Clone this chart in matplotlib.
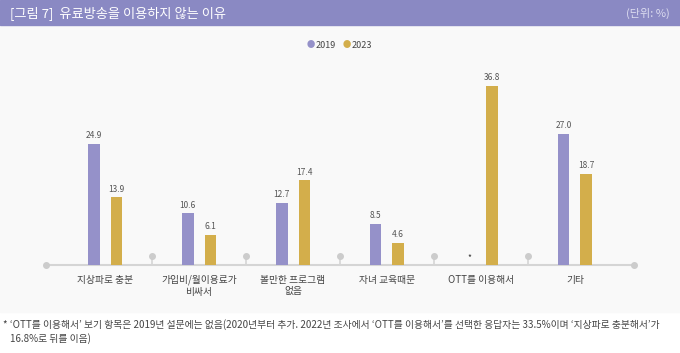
import matplotlib.pyplot as plt
import matplotlib.patches as mpatches
import numpy as np

plt.rcParams['font.family'] = ['Noto Sans CJK KR', 'DejaVu Sans']

categories = ['지상파로 충분', '가입비/월이용료가\n비싸서', '볼만한 프로그램\n없음',
              '자녀 교육때문', 'OTT를 이용해서', '기타']
vals_2019 = [24.9, 10.6, 12.7, 8.5, np.nan, 27.0]
vals_2023 = [13.9, 6.1, 17.4, 4.6, 36.8, 18.7]
labels_2019 = ['24.9', '10.6', '12.7', '8.5', '*', '27.0']
labels_2023 = ['13.9', '6.1', '17.4', '4.6', '36.8', '18.7']

c19 = '#9591c9'
c23 = '#d3ae4b'
grey = '#d5d5d5'

W, H = 680, 353
fig = plt.figure(figsize=(W / 100, H / 100), dpi=100)
fig.patch.set_facecolor('white')

# panel background and header bar
fig.patches.append(mpatches.Rectangle((0, (H - 312) / H), 1, (312 - 25) / H,
                                      transform=fig.transFigure, color='#f9f9f9', zorder=-2))
fig.patches.append(mpatches.Rectangle((0, (H - 25) / H), 1, 25 / H,
                                      transform=fig.transFigure, color='#8a89c3', zorder=-2))
fig.text(10 / W, 1 - 13 / H, '[그림 7]  유료방송을 이용하지 않는 이유', color='white',
         fontsize=9.5, va='center', ha='left')
fig.text(670 / W, 1 - 13 / H, '(단위: %)', color='#dcdcf0', fontsize=8, va='center', ha='right')

# legend
fig.text(311 / W, 1 - 45 / H, '●', color=c19, fontsize=6, va='center', ha='center')
fig.text(316 / W, 1 - 45 / H, '2019', color='#444444', fontsize=6.5, va='center', ha='left')
fig.text(347 / W, 1 - 45 / H, '●', color=c23, fontsize=6, va='center', ha='center')
fig.text(352 / W, 1 - 45 / H, '2023', color='#444444', fontsize=6.5, va='center', ha='left')

# chart axes: baseline at y=265px, 94px per group, 4.86px per unit
px_per_unit = 4.86
ax = fig.add_axes([46 / W, (H - 265) / H, (634 - 46) / W, 205 / H])
ax.set_zorder(1)
ax.set_xlim(-0.628, 5.628)
ax.set_ylim(0, 205 / px_per_unit)
ax.axis('off')

x = np.arange(len(categories))
off = 11.25 / 94
bw = 11.5 / 94
ax.bar(x - off, vals_2019, width=bw, color=c19, zorder=3)
ax.bar(x + off, vals_2023, width=bw, color=c23, zorder=3)

for i in range(len(categories)):
    v = vals_2019[i]
    if np.isnan(v):
        ax.text(x[i] - off, 1.6, labels_2019[i], ha='center', va='center', fontsize=6, color='#333333')
    else:
        ax.text(x[i] - off, v + 0.8, labels_2019[i], ha='center', va='bottom', fontsize=6, color='#555555')
    ax.text(x[i] + off, vals_2023[i] + 0.8, labels_2023[i], ha='center', va='bottom',
            fontsize=6, color='#555555')

# baseline with separators
ax.plot([-0.628, 5.628], [0, 0], color=grey, lw=1.5, zorder=2, clip_on=False)
ends = [-0.628, 5.628]
ax.scatter(ends, [0, 0], s=16, color='#cccccc', zorder=4, clip_on=False)
seps = x[:-1] + 0.5
for s in seps:
    ax.plot([s, s], [0, 1.85], color=grey, lw=1.2, zorder=2)
ax.scatter(seps, [1.85] * len(seps), s=16, color='#cccccc', zorder=4)

for i, c in enumerate(categories):
    ax.text(x[i], -2.0, c, ha='center', va='top', fontsize=7, color='#444444',
            linespacing=1.2, clip_on=False)

# footnote
fig.text(3 / W, 1 - 325 / H,
         '* ‘OTT를 이용해서’ 보기 항목은 2019년 설문에는 없음(2020년부터 추가. 2022년 조사에서 ‘OTT를 이용해서’를 선택한 응답자는 33.5%이며 ‘지상파로 충분해서’가',
         fontsize=7.05, color='#444444', va='center', ha='left')
fig.text(10 / W, 1 - 339 / H, '16.8%로 뒤를 이음)', fontsize=7.05, color='#444444',
         va='center', ha='left')

fig.savefig('out.png', dpi=100)
